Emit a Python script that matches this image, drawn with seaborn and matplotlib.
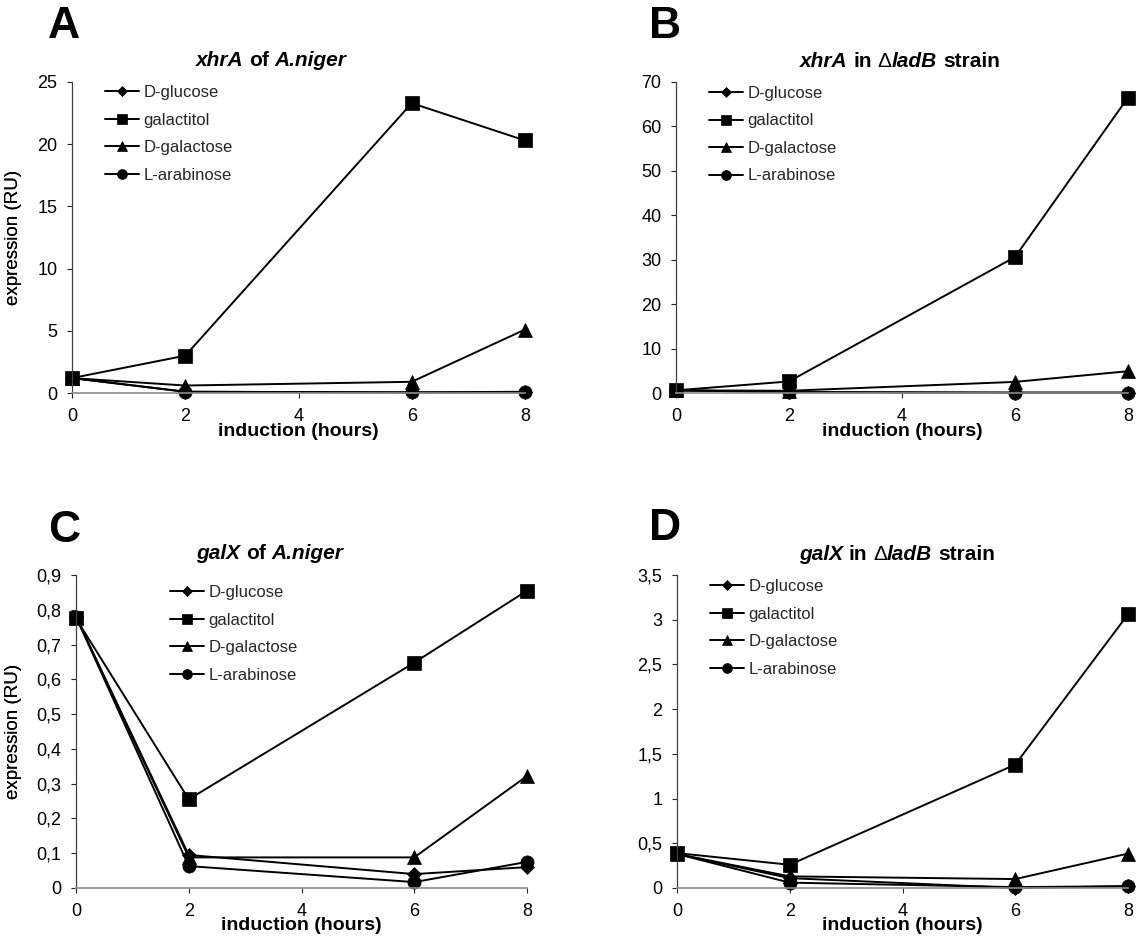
"""
plot.py - xhrA / galX expression time courses (4 panels)
"""

import numpy as np
import pandas as pd
import matplotlib
matplotlib.use('Agg')
import matplotlib.pyplot as plt
import seaborn as sns
from matplotlib.ticker import FuncFormatter, MultipleLocator

# ============================================================
# DATA
# ============================================================

hours = [0, 2, 6, 8]
sources = ['D-glucose', 'galactitol', 'D-galactose', 'L-arabinose']

# A: xhrA of A.niger
a_glucose = [1.2, 0.1, 0.05, 0.05]
a_galactitol = [1.2, 3.0, 23.3, 20.3]
a_galactose = [1.2, 0.6, 0.9, 5.1]
a_arabinose = [1.2, 0.1, 0.05, 0.1]

# B: xhrA in dladB strain
b_glucose = [0.6, 0.2, 0.05, 0.05]
b_galactitol = [0.6, 2.6, 30.6, 66.5]
b_galactose = [0.6, 0.5, 2.5, 4.9]
b_arabinose = [0.6, 0.2, 0.1, 0.1]

# C: galX of A.niger
c_glucose = [0.78, 0.095, 0.04, 0.06]
c_galactitol = [0.775, 0.255, 0.648, 0.855]
c_galactose = [0.78, 0.088, 0.088, 0.322]
c_arabinose = [0.78, 0.063, 0.017, 0.075]

# D: galX in dladB strain
d_glucose = [0.38, 0.11, 0.0, 0.02]
d_galactitol = [0.39, 0.26, 1.38, 3.06]
d_galactose = [0.38, 0.13, 0.10, 0.385]
d_arabinose = [0.38, 0.06, 0.01, 0.02]

xticks = [0, 2, 4, 6, 8]


def to_long(glc, gol, gal, ara):
    vals = glc + gol + gal + ara
    src = [s for s in sources for _ in hours]
    return pd.DataFrame({'hours': hours * 4, 'expression': vals, 'source': src})


# ============================================================
# STYLE
# ============================================================

sns.set_theme(style='white')
plt.rcParams['font.family'] = ['Liberation Sans', 'DejaVu Sans']

W, H = 1138, 940
fig = plt.figure(figsize=(W / 100, H / 100), dpi=100)

marker_style = {
    'D-glucose': ('D', 6.8),
    'galactitol': ('s', 10),
    'D-galactose': ('^', 10),
    'L-arabinose': ('o', 9.5),
}

comma = FuncFormatter(lambda v, p: f'{v:g}'.replace('.', ','))

panels = [
    dict(letter='A', letter_xy=(64, 26),
         title=[('xhrA', 'italic', 'bold'), ' ', ('of', 'normal', 'bold'), ' ',
                ('A.niger', 'italic', 'bold')],
         title_xy=(271, 66), box=(72, 525, 82, 393),
         data=to_long(a_glucose, a_galactitol, a_galactose, a_arabinose),
         ymax=25, ystep=5, leg=(105, 85), xlab_y=431),
    dict(letter='B', letter_xy=(665, 26),
         title=[('xhrA', 'italic', 'bold'), ' ', ('in', 'normal', 'bold'), ' ',
                ('\u0394', 'normal', 'normal'), ('ladB', 'italic', 'bold'), ' ',
                ('strain', 'normal', 'bold')],
         title_xy=(900, 67), box=(676, 1128, 82, 393),
         data=to_long(b_glucose, b_galactitol, b_galactose, b_arabinose),
         ymax=70, ystep=10, leg=(709, 86), xlab_y=431),
    dict(letter='C', letter_xy=(64, 531),
         title=[('galX', 'italic', 'bold'), ' ', ('of', 'normal', 'bold'), ' ',
                ('A.niger', 'italic', 'bold')],
         title_xy=(270, 559), box=(76, 527, 575, 888),
         data=to_long(c_glucose, c_galactitol, c_galactose, c_arabinose),
         ymax=0.9, ystep=0.1, leg=(170, 585), xlab_y=926),
    dict(letter='D', letter_xy=(665, 528),
         title=[('galX', 'italic', 'bold'), ' ', ('in', 'normal', 'bold'), ' ',
                ('\u0394', 'normal', 'normal'), ('ladB', 'italic', 'bold'), ' ',
                ('strain', 'normal', 'bold')],
         title_xy=(897, 560), box=(677, 1128, 575, 888),
         data=to_long(d_glucose, d_galactitol, d_galactose, d_arabinose),
         ymax=3.5, ystep=0.5, leg=(710, 579), xlab_y=926),
]

renderer = fig.canvas.get_renderer()


def draw_title(pieces, xc, yb, size=15):
    # mixed bold / italic title, centred on xc (pixels), baseline yb (pixels)
    probe1 = fig.text(0, 0, 'x x', fontsize=size, fontweight='bold')
    probe2 = fig.text(0, 0, 'xx', fontsize=size, fontweight='bold')
    gap = (probe1.get_window_extent(renderer).width
           - probe2.get_window_extent(renderer).width)
    probe1.remove()
    probe2.remove()
    items = []
    for p in pieces:
        if p == ' ':
            items.append((None, gap))
        else:
            t = fig.text(0, 1 - yb / H, p[0], fontsize=size, fontstyle=p[1],
                         fontweight=p[2], ha='left', va='baseline', color='black')
            items.append((t, t.get_window_extent(renderer).width))
    total = sum(w for _, w in items)
    x = xc - total / 2
    for t, w in items:
        if t is not None:
            t.set_x(x / W)
        x += w


# ============================================================
# DRAW PANELS
# ============================================================

for pan in panels:
    left, right, top, bottom = pan['box']
    ax = fig.add_axes([left / W, 1 - bottom / H, (right - left) / W, (bottom - top) / H])
    df = pan['data']

    for s in sources:
        m, ms = marker_style[s]
        sns.lineplot(data=df[df['source'] == s], x='hours', y='expression',
                     color='black', lw=1.4, marker=m, markersize=ms,
                     markeredgecolor='black', markeredgewidth=0.5,
                     label=s, clip_on=False, ax=ax)

    ax.set_xlim(0, 8)
    ax.set_xticks(xticks)
    ax.set_ylim(0, pan['ymax'])
    ax.yaxis.set_major_locator(MultipleLocator(pan['ystep']))
    ax.yaxis.set_major_formatter(comma)
    ax.tick_params(left=True, bottom=True, direction='out', length=3.6,
                   width=0.8, pad=7, labelsize=13, colors='#262626',
                   labelcolor='black')

    for side in ['top', 'right']:
        ax.spines[side].set_visible(False)
    ax.spines['left'].set_color('#404040')
    ax.spines['left'].set_linewidth(0.9)
    ax.spines['bottom'].set_color('#8c8c8c')
    ax.spines['bottom'].set_linewidth(1.2)

    ax.set_ylabel('expression (RU)', fontsize=13.5, color='black')
    ax.yaxis.set_label_coords((22 - left) / (right - left), 0.5)
    ax.set_xlabel('induction (hours)', fontsize=14, fontweight='bold', color='black')
    ax.xaxis.set_label_coords(0.5, -(pan['xlab_y'] - bottom) / (bottom - top))
    ax.xaxis.label.set_va('center')

    lx, ly = pan['leg']
    ax.legend(loc='upper left',
              bbox_to_anchor=((lx - left) / (right - left), 1 - (ly - top) / (bottom - top)),
              frameon=False, fontsize=12, borderpad=0, borderaxespad=0,
              handlelength=2.05, handletextpad=0.25, labelspacing=0.75,
              markerscale=0.75)

    fig.text(pan['letter_xy'][0] / W, 1 - pan['letter_xy'][1] / H, pan['letter'],
             fontsize=32, fontweight='bold', ha='center', va='center', color='black')
    draw_title(pan['title'], *pan['title_xy'])

plt.savefig('out.png', dpi=100)
print("Saved out.png")
